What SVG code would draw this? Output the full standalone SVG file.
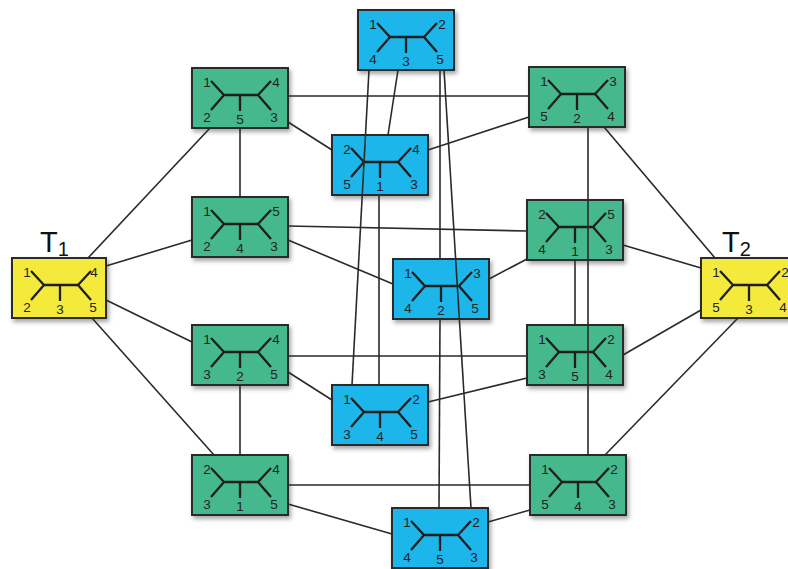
<svg xmlns="http://www.w3.org/2000/svg" width="788" height="569" viewBox="0 0 788 569">
  <defs>
    <filter id="shadow" x="-20%" y="-20%" width="150%" height="160%">
      <feDropShadow dx="2" dy="3" stdDeviation="2" flood-color="#000" flood-opacity="0.35"/>
    </filter>
    <!-- unrooted five-leaf tree drawn inside every box -->
    <g id="tree">
      <path d="M19 13 L32 27 L19 42 M32 27 L66 27 M79 13 L66 27 L79 42 M48 27 L48 43"/>
    </g>
  </defs>
  <style>
    .box { stroke: #2b2b2b; stroke-width: 2; filter: url(#shadow); }
    .yellow { fill: #F4EA3A; }
    .green { fill: #44B98D; }
    .blue { fill: #1DB6EA; }
    .tree { fill: none; stroke: #1e1e1e; stroke-width: 2.3; stroke-linecap: butt; }
    .lbl { font-family: "Liberation Sans", Arial, sans-serif; font-size: 13.5px; fill: #222; text-anchor: middle; }
    .title { font-family: "Liberation Sans", Arial, sans-serif; fill: #111; }
    .edges line { stroke: #2a2a2a; stroke-width: 1.6; }
  </style>

  <rect width="788" height="569" fill="#ffffff"/>

  <!-- titles -->
  <text class="title" x="40" y="252" font-size="29">T<tspan font-size="20" dy="4">1</tspan></text>
  <text class="title" x="722" y="252" font-size="29">T<tspan font-size="20" dy="4">2</tspan></text>

  <!-- T1 -->
  <g id="T1" transform="translate(12,258)">
    <rect class="box yellow" width="94" height="60"/>
    <use href="#tree" class="tree"/>
    <text class="lbl" x="15" y="19">1</text><text class="lbl" x="15" y="54">2</text>
    <text class="lbl" x="48" y="56">3</text>
    <text class="lbl" x="82" y="19">4</text><text class="lbl" x="81" y="54">5</text>
  </g>

  <!-- T2 -->
  <g id="T2" transform="translate(701,258)">
    <rect class="box yellow" width="96" height="60"/>
    <use href="#tree" class="tree"/>
    <text class="lbl" x="15" y="19">1</text><text class="lbl" x="15" y="54">5</text>
    <text class="lbl" x="48" y="56">3</text>
    <text class="lbl" x="84" y="19">2</text><text class="lbl" x="82" y="54">4</text>
  </g>

  <g id="nA" transform="translate(192,68)">
    <rect class="box green" width="96" height="60"/>
    <use href="#tree" class="tree"/>
    <text class="lbl" x="15" y="19">1</text><text class="lbl" x="15" y="54">2</text>
    <text class="lbl" x="48" y="56">5</text>
    <text class="lbl" x="84" y="19">4</text><text class="lbl" x="82" y="54">3</text>
  </g>

  <g id="nB" transform="translate(192,197)">
    <rect class="box green" width="96" height="60"/>
    <use href="#tree" class="tree"/>
    <text class="lbl" x="15" y="19">1</text><text class="lbl" x="15" y="54">2</text>
    <text class="lbl" x="48" y="56">4</text>
    <text class="lbl" x="84" y="19">5</text><text class="lbl" x="82" y="54">3</text>
  </g>

  <g id="nC" transform="translate(192,325)">
    <rect class="box green" width="96" height="60"/>
    <use href="#tree" class="tree"/>
    <text class="lbl" x="15" y="19">1</text><text class="lbl" x="15" y="54">3</text>
    <text class="lbl" x="48" y="56">2</text>
    <text class="lbl" x="84" y="19">4</text><text class="lbl" x="82" y="54">5</text>
  </g>

  <g id="nD" transform="translate(192,455)">
    <rect class="box green" width="96" height="60"/>
    <use href="#tree" class="tree"/>
    <text class="lbl" x="15" y="19">2</text><text class="lbl" x="15" y="54">3</text>
    <text class="lbl" x="48" y="56">1</text>
    <text class="lbl" x="84" y="19">4</text><text class="lbl" x="82" y="54">5</text>
  </g>

  <g id="nE" transform="translate(358,10)">
    <rect class="box blue" width="96" height="60"/>
    <use href="#tree" class="tree"/>
    <text class="lbl" x="15" y="19">1</text><text class="lbl" x="15" y="54">4</text>
    <text class="lbl" x="48" y="56">3</text>
    <text class="lbl" x="84" y="19">2</text><text class="lbl" x="82" y="54">5</text>
  </g>

  <g id="nF" transform="translate(332,135)">
    <rect class="box blue" width="96" height="60"/>
    <use href="#tree" class="tree"/>
    <text class="lbl" x="15" y="19">2</text><text class="lbl" x="15" y="54">5</text>
    <text class="lbl" x="48" y="56">1</text>
    <text class="lbl" x="84" y="19">4</text><text class="lbl" x="82" y="54">3</text>
  </g>

  <g id="nG" transform="translate(393,259)">
    <rect class="box blue" width="96" height="60"/>
    <use href="#tree" class="tree"/>
    <text class="lbl" x="15" y="19">1</text><text class="lbl" x="15" y="54">4</text>
    <text class="lbl" x="48" y="56">2</text>
    <text class="lbl" x="84" y="19">3</text><text class="lbl" x="82" y="54">5</text>
  </g>

  <g id="nH" transform="translate(332,385)">
    <rect class="box blue" width="96" height="60"/>
    <use href="#tree" class="tree"/>
    <text class="lbl" x="15" y="19">1</text><text class="lbl" x="15" y="54">3</text>
    <text class="lbl" x="48" y="56">4</text>
    <text class="lbl" x="84" y="19">2</text><text class="lbl" x="82" y="54">5</text>
  </g>

  <g id="nI" transform="translate(392,508)">
    <rect class="box blue" width="96" height="60"/>
    <use href="#tree" class="tree"/>
    <text class="lbl" x="15" y="19">1</text><text class="lbl" x="15" y="54">4</text>
    <text class="lbl" x="48" y="56">5</text>
    <text class="lbl" x="84" y="19">2</text><text class="lbl" x="82" y="54">3</text>
  </g>

  <g id="nJ" transform="translate(529,67)">
    <rect class="box green" width="96" height="60"/>
    <use href="#tree" class="tree"/>
    <text class="lbl" x="15" y="19">1</text><text class="lbl" x="15" y="54">5</text>
    <text class="lbl" x="48" y="56">2</text>
    <text class="lbl" x="84" y="19">3</text><text class="lbl" x="82" y="54">4</text>
  </g>

  <g id="nK" transform="translate(527,200)">
    <rect class="box green" width="96" height="60"/>
    <use href="#tree" class="tree"/>
    <text class="lbl" x="15" y="19">2</text><text class="lbl" x="15" y="54">4</text>
    <text class="lbl" x="48" y="56">1</text>
    <text class="lbl" x="84" y="19">5</text><text class="lbl" x="82" y="54">3</text>
  </g>

  <g id="nL" transform="translate(527,325)">
    <rect class="box green" width="96" height="60"/>
    <use href="#tree" class="tree"/>
    <text class="lbl" x="15" y="19">1</text><text class="lbl" x="15" y="54">3</text>
    <text class="lbl" x="48" y="56">5</text>
    <text class="lbl" x="84" y="19">2</text><text class="lbl" x="82" y="54">4</text>
  </g>

  <g id="nM" transform="translate(530,455)">
    <rect class="box green" width="96" height="60"/>
    <use href="#tree" class="tree"/>
    <text class="lbl" x="15" y="19">1</text><text class="lbl" x="15" y="54">5</text>
    <text class="lbl" x="48" y="56">4</text>
    <text class="lbl" x="84" y="19">2</text><text class="lbl" x="82" y="54">3</text>
  </g>

  <!-- connectors: one line per single-move neighbour pair -->
  <g id="edges" class="edges">
    <line x1="88" y1="258" x2="210" y2="128"/>
    <line x1="106" y1="266" x2="192" y2="240"/>
    <line x1="106" y1="300" x2="192" y2="342"/>
    <line x1="92" y1="318" x2="214" y2="455"/>
    <line x1="240" y1="128" x2="240" y2="197"/>
    <line x1="240" y1="385" x2="240" y2="455"/>
    <line x1="288" y1="96" x2="529" y2="96"/>
    <line x1="288" y1="122" x2="332" y2="150"/>
    <line x1="288" y1="226" x2="527" y2="231"/>
    <line x1="288" y1="240" x2="393" y2="284"/>
    <line x1="288" y1="356" x2="527" y2="356"/>
    <line x1="288" y1="372" x2="332" y2="400"/>
    <line x1="288" y1="485" x2="530" y2="485"/>
    <line x1="288" y1="504" x2="392" y2="534"/>
    <line x1="428" y1="150" x2="529" y2="117"/>
    <line x1="489" y1="279" x2="527" y2="259"/>
    <line x1="428" y1="402" x2="527" y2="378"/>
    <line x1="488" y1="522" x2="530" y2="510"/>
    <line x1="604" y1="127" x2="715" y2="258"/>
    <line x1="623" y1="245" x2="701" y2="268"/>
    <line x1="623" y1="355" x2="701" y2="310"/>
    <line x1="605" y1="455" x2="738" y2="318"/>
    <line x1="588" y1="127" x2="588" y2="455"/>
    <line x1="575" y1="260" x2="575" y2="325"/>
    <line x1="398" y1="70" x2="388" y2="135"/>
    <line x1="369" y1="70" x2="352" y2="385"/>
    <line x1="440" y1="70" x2="440" y2="259"/>
    <line x1="444" y1="70" x2="471" y2="508"/>
    <line x1="379" y1="195" x2="379" y2="385"/>
    <line x1="440" y1="319" x2="439" y2="508"/>
  </g>
</svg>
